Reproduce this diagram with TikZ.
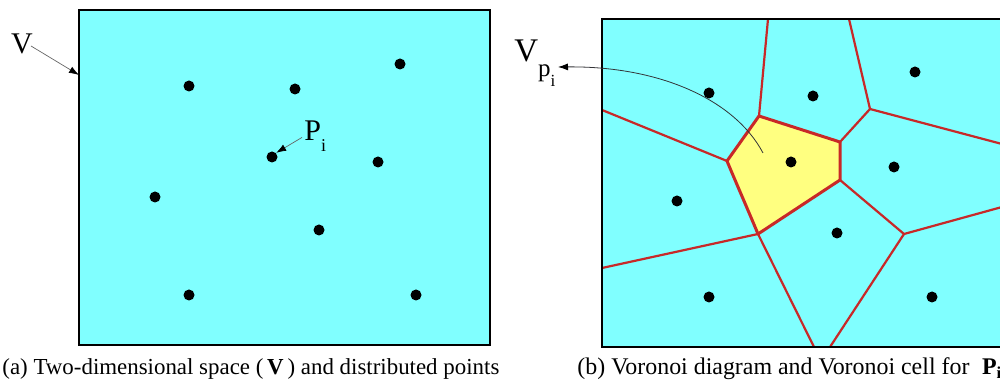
\documentclass[tikz,border=0pt]{standalone}
\usepackage{fontspec}
\setmainfont{Liberation Serif}[Ligatures=TeX]
\usetikzlibrary{arrows.meta}
\definecolor{cellcyan}{RGB}{128,255,255}
\definecolor{cellyellow}{RGB}{255,255,128}
\definecolor{vedge}{RGB}{200,40,40}
\tikzset{
  panel/.style={draw=black, line width=1.2pt, fill=cellcyan},
  site/.style={circle, fill=black, inner sep=0pt, minimum size=5.5pt},
  vline/.style={draw=vedge, line width=1.1pt, line join=round},
  cellline/.style={draw=vedge, line width=1.5pt, line join=round, fill=cellyellow},
  pointer/.style={draw=black!60, line width=0.35pt, -{Latex[length=5pt,width=3.5pt,black]}},
  lbl/.style={inner sep=0pt, text=black},
  caption/.style={inner sep=0pt, anchor=base west}
}
\begin{document}
\begin{tikzpicture}[x=0.5pt, y=-0.5pt]
\useasboundingbox (0,0) rectangle (1000,383);
\clip (0,0) rectangle (1000,383);
% ---------- panel (a)
\path[panel] (79,10) rectangle (490,345);
\coordinate (aborder) at (79,75);
\foreach \n/\x/\y in {a1/189/86, a2/295/89, a3/400/64, ai/272/157, a5/378/162, a6/155/197, a7/319/230, a8/189/295, a9/416/295}
  \node[site] (\n) at (\x,\y) {};
\node[lbl, font=\fontsize{15}{15}\selectfont] (Vlab) at (22,44) {V};
\draw[pointer] (31,46) -- (aborder);
\node[lbl, font=\fontsize{15}{15}\selectfont, anchor=base west] (Pilab) at (304,141) {P\raisebox{-0.35em}{\fontsize{9}{9}\selectfont i}};
\draw[pointer] (Pilab.west) ++(-2,1) coordinate (pstart) -- (ai.north east);
% ---------- panel (b)
\path[panel] (602,19) rectangle (1010,347);
\coordinate (t1) at (768,19);   \coordinate (t2) at (849,19);
\coordinate (l1) at (602,110);  \coordinate (l2) at (602,268);
\coordinate (r1) at (1002,144); \coordinate (r2) at (1002,207);
\coordinate (b1) at (814,347);  \coordinate (b2) at (830,347);
\coordinate (c1) at (759,116);  \coordinate (c2) at (840,142);
\coordinate (c3) at (840,180);  \coordinate (c4) at (758,234);
\coordinate (c5) at (727,161);
\coordinate (u1) at (870,109);  \coordinate (u2) at (904,234);
\path[cellline] (c1) -- (c2) -- (c3) -- (c4) .. controls (748,210) and (737,185) .. (c5) -- cycle;
\draw[vline] (t1) -- (c1);
\draw[vline] (t2) -- (u1) -- (c2);
\draw[vline] (u1) -- (r1);
\draw[vline] (l1) -- (c5);
\draw[vline] (c3) -- (u2) -- (r2);
\draw[vline] (l2) -- (c4) -- (b1);
\draw[vline] (u2) -- (b2);
\draw[panel, fill=none] (602,19) rectangle (1010,347);
\foreach \n/\x/\y in {b1s/709/93, b2s/813/96, b3s/915/72, bi/791/162, b5s/894/167, b6s/677/201, b7s/837/233, b8s/709/297, b9s/932/297}
  \node[site] (\n) at (\x,\y) {};
\node[lbl, font=\fontsize{16.5}{16.5}\selectfont, anchor=base west] (Vpilab) at (514,62)
  {V\raisebox{-0.45em}{\fontsize{12.5}{12.5}\selectfont p\raisebox{-0.4em}{\fontsize{8.5}{8.5}\selectfont i}}};
\coordinate (incell) at (763,153);
\draw[draw=black!75!cyan!40!black, line width=0.4pt, -{Latex[length=5pt,width=3.5pt,black]}]
  (incell) .. controls (735,100) and (660,66) .. (558,67);
% ---------- captions
\node[caption, font=\fontsize{11.45}{13}\selectfont] (capa) at (2,375) {(a) Two-dimensional space (\,\textbf{V}\,) and distributed points};
\node[caption, font=\fontsize{11.95}{13}\selectfont] (capb) at (577,375) {(b) Voronoi diagram and Voronoi cell for \;\textbf{P}\textsubscript{\textbf{i}}};
\end{tikzpicture}
\end{document}
